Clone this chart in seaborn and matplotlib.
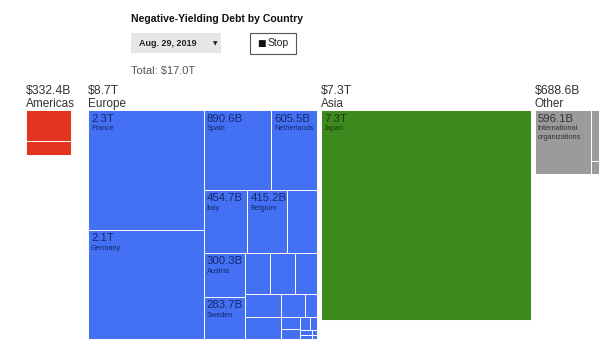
import textwrap
import numpy as np
import matplotlib
matplotlib.use("Agg")
import matplotlib.pyplot as plt
from matplotlib.patches import Rectangle
import seaborn as sns

# data, billions of dollars
regions = ["Americas", "Europe", "Asia", "Other"]

americas_names = ["Canada", "Chile"]
americas_vals = [232.0, 100.4]

europe_names = ["France", "Germany", "Spain", "Netherlands", "Italy", "Belgium",
                "Switzerland", "Austria", "Sweden", "Finland", "Denmark", "Portugal",
                "Ireland", "Slovakia", "Slovenia", "Luxembourg", "Latvia", "Lithuania",
                "Czech Republic", "Estonia", "Malta", "Cyprus", "Croatia", "Hungary"]
europe_vals = [2300.0, 2100.0, 890.6, 605.5, 454.7, 415.2,
               310.0, 300.3, 283.7, 175.0, 172.0, 150.0,
               138.0, 132.0, 95.0, 45.0, 40.0, 32.0,
               20.0, 15.0, 10.0, 8.0, 5.0, 3.0]

asia_names = ["Japan"]
asia_vals = [7300.0]

other_names = ["International organizations", "Supranational", "Other"]
other_vals = [596.1, 73.0, 19.5]

date_label = "Aug. 29, 2019"

region_colors = {"Americas": "#E2331F", "Europe": "#4470F3",
                 "Asia": "#3F8A1F", "Other": "#9B9B9B"}
text_colors = {"Americas": "#5a0f08", "Europe": "#13296e",
               "Asia": "#183d0a", "Other": "#333333"}


def fmt(v):
    if v >= 1000:
        return f"{v / 1000:.1f}T"
    return f"{v:.1f}B"


def squarify(values, x0, y0, x1, y1, ratio=1.55):
    # same idea as d3.treemapSquarify
    rects = [None] * len(values)
    total = sum(values)
    n = len(values)
    i0 = 0
    while i0 < n:
        dx, dy = x1 - x0, y1 - y0
        s = values[i0]
        lo = hi = s
        alpha = max(dy / dx, dx / dy) / (total * ratio)
        beta = s * s * alpha
        best = max(hi / beta, beta / lo)
        i1 = i0 + 1
        while i1 < n:
            v = values[i1]
            s2 = s + v
            beta = s2 * s2 * alpha
            r = max(max(hi, v) / beta, beta / min(lo, v))
            if r > best:
                break
            s, best = s2, r
            lo, hi = min(lo, v), max(hi, v)
            i1 += 1
        row = values[i0:i1]
        if dx < dy:
            h = dy * s / total
            x = x0
            for k, v in enumerate(row):
                w = dx * v / s
                rects[i0 + k] = (x, y0, w, h)
                x += w
            y0 += h
        else:
            w = dx * s / total
            y = y0
            for k, v in enumerate(row):
                h = dy * v / s
                rects[i0 + k] = (x0, y, w, h)
                y += h
            x0 += w
        total -= s
        i0 = i1
    return rects


sns.set_theme(style="white")
plt.rcParams['font.family'] = ['Liberation Sans', 'DejaVu Sans']

fig = plt.figure(figsize=(6, 3.6), dpi=100)
ax = fig.add_axes([0, 0, 1, 1])
ax.set_xlim(0, 600)
ax.set_ylim(360, 0)
ax.axis("off")

# header
ax.text(131, 19, "Negative-Yielding Debt by Country", fontsize=7.6,
        fontweight="bold", color="#111111", va="center")
ax.add_patch(Rectangle((131, 33), 90, 20, facecolor="#e6e6e6", edgecolor="none"))
ax.text(139, 43.5, date_label, fontsize=6.5, fontweight="bold",
        color="#222222", va="center")
ax.text(213, 43.5, "▼", fontsize=4.2, color="#222222", va="center",
        family=["DejaVu Sans"])
ax.add_patch(Rectangle((250, 33), 46, 21, facecolor="white",
                       edgecolor="#555555", lw=0.8))
ax.text(257, 43.5, "■", fontsize=6.5, color="#111111", va="center",
        family=["DejaVu Sans"])
ax.text(267.5, 43.5, "Stop", fontsize=7.5, color="#222222", va="center")

grand = sum(americas_vals) + sum(europe_vals) + sum(asia_vals) + sum(other_vals)
ax.text(131, 71, f"Total: ${fmt(grand)}", fontsize=8, color="#555555", va="center")

# regions side by side, each a square with area proportional to its total
groups = [(americas_names, americas_vals), (europe_names, europe_vals),
          (asia_names, asia_vals), (other_names, other_vals)]
px_per_b = 229.0 ** 2 / 8700.0
top = 110
x = 26
for region, (names, vals) in zip(regions, groups):
    tot = sum(vals)
    side = np.sqrt(tot * px_per_b)
    ax.text(x, 91, f"${fmt(tot)}", fontsize=8.8, color="#333333", va="center")
    ax.text(x, 104, region, fontsize=8.5, color="#333333", va="center")
    rects = squarify(vals, x, top, x + side, top + side)
    for name, v, (rx, ry, rw, rh) in zip(names, vals, rects):
        ax.add_patch(Rectangle((rx, ry), rw, rh, facecolor=region_colors[region],
                               edgecolor="white", lw=0.7))
        if rw >= 38 and rh >= 35:
            ax.text(rx + 3, ry + 3.5, fmt(v), fontsize=8.2,
                    color=text_colors[region], va="top")
            wrapped = textwrap.fill(name, max(4, int(rw / 4.0)))
            ax.text(rx + 3, ry + 15.5, wrapped, fontsize=5.3,
                    color=text_colors[region], va="top", linespacing=1.25)
    x = x + max(side, 58) + 4

fig.savefig("out.png", dpi=100)
